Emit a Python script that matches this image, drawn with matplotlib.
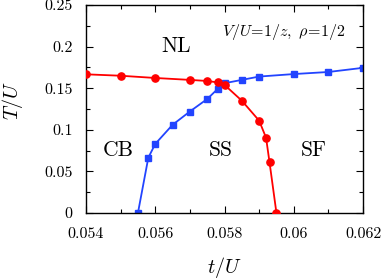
import matplotlib
matplotlib.use("Agg")
import matplotlib.pyplot as plt
from matplotlib.ticker import MultipleLocator, FuncFormatter

plt.rcParams['font.family'] = 'serif'
plt.rcParams['font.serif'] = ['cmr10', 'DejaVu Serif']
plt.rcParams['mathtext.fontset'] = 'cm'
plt.rcParams['axes.formatter.use_mathtext'] = True

# Data
ss_t = [0.0555, 0.0558, 0.0560, 0.0565, 0.0570, 0.0575, 0.0578, 0.0580, 0.0585, 0.0590, 0.0600, 0.0610, 0.0620]
ss_T = [0.0, 0.0665, 0.083, 0.106, 0.122, 0.137, 0.149, 0.156, 0.160, 0.164, 0.167, 0.1695, 0.1745]
nl_t = [0.0540, 0.0550, 0.0560, 0.0570, 0.0575, 0.0578, 0.0580, 0.0585, 0.0590, 0.0592, 0.0593, 0.0595]
nl_T = [0.1667, 0.165, 0.1623, 0.160, 0.1587, 0.157, 0.154, 0.135, 0.111, 0.0905, 0.061, 0.0]

fig = plt.figure(figsize=(3.82, 2.79), dpi=100)
ax = fig.add_axes([0.2251, 0.2366, 0.9503 - 0.2251, 0.982 - 0.2366])

ax.plot(nl_t, nl_T, '-o', color='#ff0000', lw=1.3, ms=5.2, zorder=3)
ax.plot(ss_t, ss_T, '-s', color='#2244ff', lw=1.3, ms=4.5, zorder=2)

ax.set_xlim(0.054, 0.062)
ax.set_ylim(0, 0.25)
ax.xaxis.set_major_locator(MultipleLocator(0.002))
ax.xaxis.set_minor_locator(MultipleLocator(0.001))
ax.yaxis.set_major_locator(MultipleLocator(0.05))
ax.yaxis.set_minor_locator(MultipleLocator(0.025))

def fmt(v, pos):
    return ('%.3f' % v).rstrip('0').rstrip('.')
ax.xaxis.set_major_formatter(FuncFormatter(fmt))
ax.yaxis.set_major_formatter(FuncFormatter(fmt))

ax.tick_params(which='both', direction='in', top=True, right=True, labelsize=11.5, width=0.8)
ax.tick_params(which='major', length=5)
ax.tick_params(axis='x', which='major', pad=10.5)
ax.tick_params(axis='y', which='major', pad=9.5)
ax.tick_params(which='minor', length=3)
for s in ax.spines.values():
    s.set_linewidth(1.0)

ax.set_xlabel(r'$t/U$', fontsize=14.5)
ax.set_ylabel(r'$T/U$', fontsize=14.5)
ax.xaxis.set_label_coords(0.5, -0.2, transform=ax.transAxes)
ax.yaxis.set_label_coords(-0.22, 0.54, transform=ax.transAxes)

ax.text(0.0566, 0.2007, 'NL', fontsize=15.5, ha='center', va='center')
ax.text(0.05493, 0.0757, 'CB', fontsize=15.5, ha='center', va='center')
ax.text(0.05789, 0.0757, 'SS', fontsize=15.5, ha='center', va='center')
ax.text(0.06058, 0.0757, 'SF', fontsize=15.5, ha='center', va='center')
ax.text(0.05972, 0.2175, r'$V/U\!=\!1/z,\ \rho\!=\!1/2$', fontsize=11.5, ha='center', va='center')

fig.savefig('out.png', dpi=100)
